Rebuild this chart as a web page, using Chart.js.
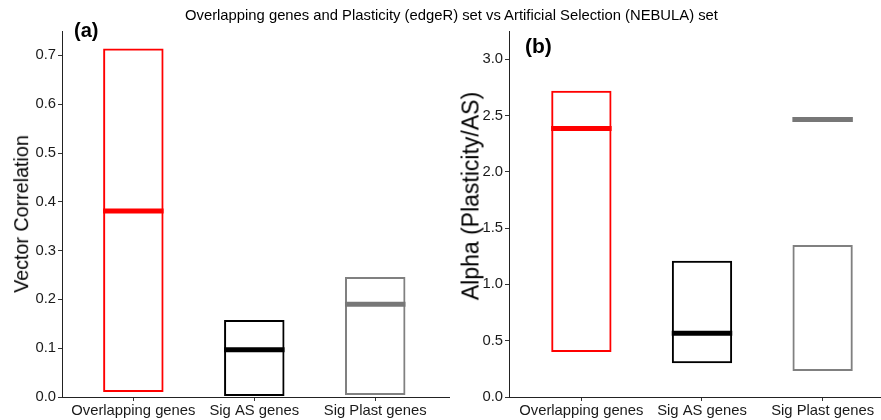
<!DOCTYPE html>
<html>
<head>
<meta charset="utf-8">
<script src="https://cdn.jsdelivr.net/npm/chart.js@4"></script>
<style>
  html, body { margin: 0; padding: 0; background: #ffffff; }
  body { width: 881px; height: 420px; position: relative; overflow: hidden; font-family: "Liberation Sans", Arial, sans-serif; }
  .txt { position: absolute; white-space: nowrap; line-height: 1; color: #000; }
  .rot { position: absolute; white-space: nowrap; line-height: 1; color: #000; transform: translate(-50%, -50%) rotate(-90deg); }
  #wrapA { position: absolute; left: 0; top: 0; width: 452px; height: 420px; }
  #wrapB { position: absolute; left: 440px; top: 0; width: 441px; height: 420px; }
</style>
</head>
<body>
<div id="wrapA"><canvas id="chartA"></canvas></div>
<div id="wrapB"><canvas id="chartB"></canvas></div>
<div class="txt" style="left:185px; top:8px; font-size:14.8px;">Overlapping genes and Plasticity (edgeR) set vs Artificial Selection (NEBULA) set</div>
<div class="txt" style="left:74px; top:20px; font-size:20px; font-weight:bold;">(a)</div>
<div class="txt" style="left:525px; top:35px; font-size:21px; font-weight:bold;">(b)</div>
<div class="rot" style="left:21.5px; top:213.5px; font-size:19.7px;">Vector Correlation</div>
<div class="rot" style="left:471px; top:196px; font-size:23px;">Alpha (Plasticity/AS)</div>
<script>
// ---- data ----
const categories = ['Overlapping genes', 'Sig AS genes', 'Sig Plast genes'];
const vcLow  = [0.010, 0.002, 0.004];
const vcHigh = [0.714, 0.158, 0.246];
const vcMid  = [0.381, 0.097, 0.190];
const alphaLow  = [0.40, 0.30, 0.23];
const alphaHigh = [2.72, 1.21, 1.35];
const alphaMid  = [2.385, 0.566, 2.465];
const vcTicks = [0.0, 0.1, 0.2, 0.3, 0.4, 0.5, 0.6, 0.7];
const alphaTicks = [0.0, 0.5, 1.0, 1.5, 2.0, 2.5, 3.0];
const catPositions = [1, 2, 3];

// ---- styles ----
const boxColors = ['#FF0000', '#000000', '#808080'];
const midColors = ['#FF0000', '#000000', '#777777'];
const FONT = '"Liberation Sans", Arial, sans-serif';

function build(canvasId, low, high, mid, yTicks, yMax, xMin, xMax, yAxisWidth, padRight) {
  const bars = catPositions.map((x, i) => ({ x: x, y: [low[i], high[i]] }));
  const meds = catPositions.map((x, i) => ({ x: x, y: mid[i] }));
  return new Chart(document.getElementById(canvasId), {
    type: 'bar',
    data: {
      datasets: [
        {
          type: 'bar',
          data: bars,
          backgroundColor: 'rgba(0,0,0,0)',
          borderColor: boxColors,
          borderWidth: 2,
          borderSkipped: false,
          barPercentage: 0.5,
          categoryPercentage: 1.0,
          order: 2
        },
        {
          type: 'line',
          data: meds,
          showLine: false,
          pointStyle: 'line',
          pointRadius: 30.25,
          pointHoverRadius: 30.25,
          pointBorderWidth: 5,
          pointHoverBorderWidth: 5,
          pointBorderColor: midColors,
          pointBackgroundColor: midColors,
          borderColor: midColors,
          clip: false,
          order: 1
        }
      ]
    },
    options: {
      responsive: true,
      maintainAspectRatio: false,
      animation: false,
      events: [],
      layout: { autoPadding: false, padding: { top: 31, right: padRight, left: 0, bottom: 0 } },
      plugins: { legend: { display: false }, tooltip: { enabled: false }, title: { display: false } },
      scales: {
        x: {
          type: 'linear',
          offset: false,
          min: xMin,
          max: xMax,
          afterBuildTicks: (s) => { s.ticks = catPositions.map(v => ({ value: v })); },
          afterFit: (s) => { s.height = 23; },
          grid: { display: true, offset: false, drawOnChartArea: false, drawTicks: true, tickLength: 4, color: '#333333', tickWidth: 1 },
          border: { display: true, color: '#222222', width: 1 },
          ticks: {
            padding: 1,
            color: '#1a1a1a',
            font: { family: FONT, size: 14.8 },
            maxRotation: 0,
            autoSkip: false,
            callback: (v) => categories[catPositions.indexOf(v)] || ''
          }
        },
        y: {
          type: 'linear',
          min: 0,
          max: yMax,
          afterBuildTicks: (s) => { s.ticks = yTicks.map(v => ({ value: v })); },
          afterFit: (s) => { s.width = yAxisWidth; },
          grid: { display: true, drawOnChartArea: false, drawTicks: true, tickLength: 4, color: '#333333', tickWidth: 1 },
          border: { display: true, color: '#222222', width: 1 },
          ticks: {
            padding: 2,
            color: '#1a1a1a',
            font: { family: FONT, size: 14.8 },
            autoSkip: false,
            callback: (v) => Number(v).toFixed(1)
          }
        }
      }
    }
  });
}

build('chartA', vcLow, vcHigh, vcMid, vcTicks, 0.75, 0.41, 3.61, 62, 3);
build('chartB', alphaLow, alphaHigh, alphaMid, alphaTicks, 3.25, 0.40, 3.484, 69, 0);
</script>
</body>
</html>
